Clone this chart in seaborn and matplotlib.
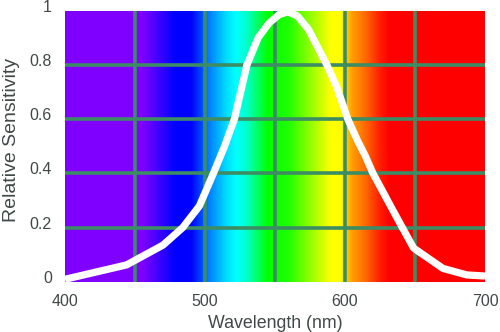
import numpy as np
import pandas as pd
import matplotlib
matplotlib.use("Agg")
import matplotlib.pyplot as plt
import matplotlib.transforms as mtransforms
from matplotlib.colors import LinearSegmentedColormap
import seaborn as sns

# ---- data ----
wavelength = [400, 444, 470, 484, 496, 506, 514, 521, 530, 538, 546, 553, 559,
              566, 574, 581, 587, 594, 602, 609, 614, 620, 632, 641, 649, 670,
              687, 700]
sensitivity = [0.01, 0.063, 0.136, 0.20, 0.28, 0.40, 0.50, 0.60, 0.80, 0.90,
               0.955, 0.985, 0.995, 0.98, 0.93, 0.86, 0.80, 0.72, 0.60, 0.52,
               0.47, 0.40, 0.285, 0.20, 0.125, 0.05, 0.026, 0.022]
x_ticks = [400, 450, 500, 550, 600, 650, 700]
x_tick_labels = ["400", "", "500", "", "600", "", "700"]
y_ticks = [0, 0.2, 0.4, 0.6, 0.8, 1.0]
y_tick_labels = ["0", "0.2", "0.4", "0.6", "0.8", "1"]

# spectrum colour stops (wavelength, colour)
spec_wl = [400, 455, 478, 490, 502, 515, 522, 530, 545, 560, 575, 590, 597,
           605, 615, 625, 632, 700]
spec_col = ["#8000ff", "#8000ff", "#0000ff", "#0000ff", "#0078ff", "#00dcff",
            "#00ffff", "#00ffc8", "#00ff00", "#20ff00", "#90ff00", "#ffff00",
            "#ffff00", "#ffa000", "#ff6800", "#ff2000", "#ff0000", "#ff0000"]

df = pd.DataFrame({"Wavelength": wavelength, "Sensitivity": sensitivity})

sns.set_theme(style="white")
plt.rcParams["font.family"] = ["Liberation Sans", "DejaVu Sans"]
text_col = "#404848"

fig = plt.figure(figsize=(5.0, 3.32), dpi=100)
ax = fig.add_axes([65 / 500, 1 - 282 / 332, 420 / 500, 271.5 / 332])

xmin, xmax = 400, 700
stops = [(w - xmin) / (xmax - xmin) for w in spec_wl]
cmap = LinearSegmentedColormap.from_list("spec", list(zip(stops, spec_col)), N=512)
grad = np.linspace(0, 1, 600).reshape(1, -1)
ax.imshow(grad, cmap=cmap, aspect="auto", extent=[xmin, xmax, 0, 1],
          origin="lower", interpolation="bilinear", zorder=0)

sns.lineplot(data=df, x="Wavelength", y="Sensitivity", ax=ax, color="white",
             linewidth=5.2, zorder=3, solid_joinstyle="round",
             solid_capstyle="butt")

ax.set_xlim(xmin, xmax)
ax.set_ylim(0, 1)
ax.set_xticks(x_ticks)
ax.set_xticklabels(x_tick_labels)
ax.set_yticks(y_ticks)
ax.set_yticklabels(y_tick_labels)

ax.grid(True, color="#3c8c64", linewidth=2.6)
for gl in ax.get_xgridlines() + ax.get_ygridlines():
    gl.set_zorder(1)
# hide gridlines lying on the frame edges
xg = ax.get_xgridlines()
xg[0].set_visible(False)
xg[-1].set_visible(False)
yg = ax.get_ygridlines()
yg[0].set_visible(False)
yg[-1].set_visible(False)

for s in ax.spines.values():
    s.set_visible(False)
ax.tick_params(axis="both", length=0, labelsize=11.5, labelcolor=text_col)
ax.tick_params(axis="x", pad=9)
ax.tick_params(axis="y", pad=9.5)

offset = mtransforms.ScaledTranslation(0, 5 / 100, fig.dpi_scale_trans)
for lab in ax.get_yticklabels():
    lab.set_transform(lab.get_transform() + offset)

ax.set_xlabel("Wavelength (nm)", fontsize=12.8, color=text_col)
ax.set_ylabel("Relative Sensitivity", fontsize=14, color=text_col)
ax.xaxis.set_label_coords(0.5, (282 - 323) / 271.5, transform=ax.transAxes)
ax.xaxis.label.set_va("center")
ax.yaxis.set_label_coords((11 - 65) / 420, (282 - 140) / 271.5,
                          transform=ax.transAxes)
ax.yaxis.label.set_va("center")

fig.savefig("out.png", dpi=100, facecolor="white")
